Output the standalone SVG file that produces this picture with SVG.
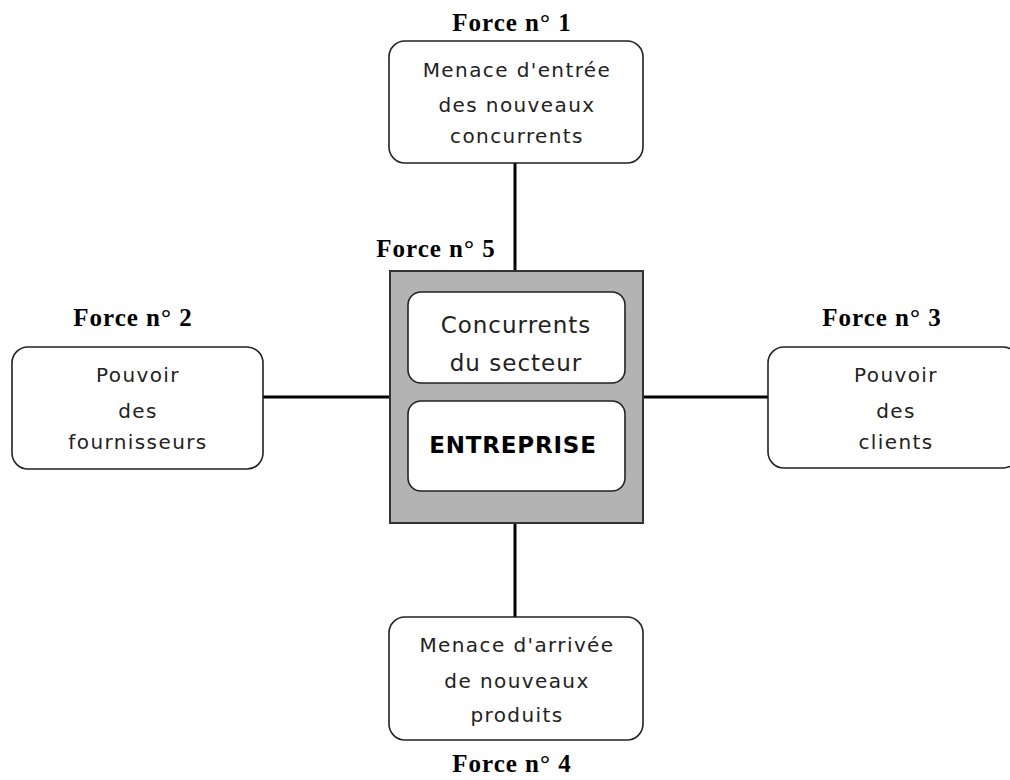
<svg xmlns="http://www.w3.org/2000/svg" width="1010" height="780" viewBox="0 0 1010 780">
<style>
.box{fill:#fff;stroke:#222;stroke-width:1.6}
.inner{fill:#fff;stroke:#222;stroke-width:1.6}
.title{font-family:"Liberation Serif",serif;font-weight:bold;font-size:25px;letter-spacing:1px;fill:#000;text-anchor:middle}
.txt{font-family:"DejaVu Sans",sans-serif;font-size:20px;letter-spacing:1.4px;fill:#222;text-anchor:middle}
.ctxt{font-family:"DejaVu Sans",sans-serif;font-size:23px;letter-spacing:1px;fill:#222;text-anchor:middle}
.btxt{font-family:"DejaVu Sans",sans-serif;font-weight:bold;font-size:23px;letter-spacing:0.8px;fill:#000;text-anchor:middle}
.conn{stroke:#000;stroke-width:3;fill:none}
</style>
<rect width="1010" height="780" fill="#fff"/>
<g id="connectors">
<line class="conn" x1="515" y1="163" x2="515" y2="271"/>
<line class="conn" x1="515" y1="523" x2="515" y2="617"/>
<line class="conn" x1="263" y1="397" x2="390" y2="397"/>
<line class="conn" x1="643" y1="397" x2="768" y2="397"/>
</g>
<g id="force1">
<text class="title" x="512" y="31">Force n° 1</text>
<rect class="box" x="389" y="41" width="254" height="122" rx="16"/>
<text class="txt" x="517" y="77">Menace d'entrée</text>
<text class="txt" x="517" y="112">des nouveaux</text>
<text class="txt" x="517" y="143">concurrents</text>
</g>
<g id="force5">
<text class="title" x="436" y="257">Force n° 5</text>
<rect x="390" y="271" width="253" height="252" fill="#b3b3b3" stroke="#333" stroke-width="2"/>
<g id="concurrents">
<rect class="inner" x="408" y="292" width="217" height="91" rx="13"/>
<text class="ctxt" x="516" y="333">Concurrents</text>
<text class="ctxt" x="516" y="371">du secteur</text>
</g>
<g id="entreprise">
<rect class="inner" x="408" y="401" width="217" height="90" rx="13"/>
<text class="btxt" x="513" y="453">ENTREPRISE</text>
</g>
</g>
<g id="force2">
<text class="title" x="133" y="326">Force n° 2</text>
<rect class="box" x="12" y="347" width="251" height="122" rx="16"/>
<text class="txt" x="138" y="382">Pouvoir</text>
<text class="txt" x="138" y="418">des</text>
<text class="txt" x="138" y="449">fournisseurs</text>
</g>
<g id="force3">
<text class="title" x="882" y="326">Force n° 3</text>
<rect class="box" x="768" y="347" width="251" height="121" rx="16"/>
<text class="txt" x="896" y="382">Pouvoir</text>
<text class="txt" x="896" y="418">des</text>
<text class="txt" x="896" y="449">clients</text>
</g>
<g id="force4">
<rect class="box" x="389" y="617" width="254" height="123" rx="16"/>
<text class="txt" x="517" y="652">Menace d'arrivée</text>
<text class="txt" x="517" y="688">de nouveaux</text>
<text class="txt" x="517" y="722">produits</text>
<text class="title" x="512" y="772">Force n° 4</text>
</g>
</svg>
